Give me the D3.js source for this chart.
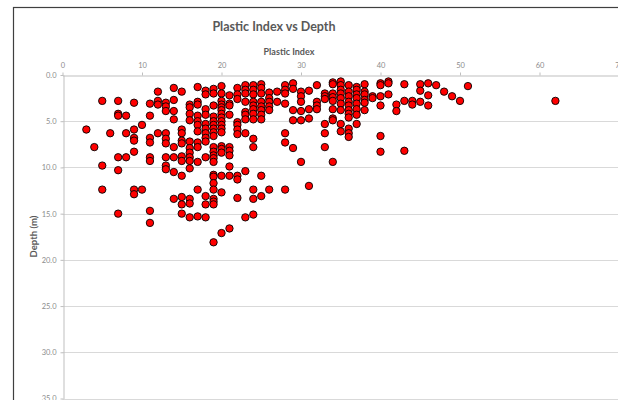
<!DOCTYPE html>
<html>
<head>
<meta charset="utf-8">
<script src="https://cdn.jsdelivr.net/npm/d3@7"></script>
<style>
  body { margin: 0; background: #fff; }
  svg { display: block; font-family: Lato, "Open Sans", sans-serif; }
</style>
</head>
<body>
<div id="chart"></div>
<script>
// plastic index values (x) and the depths measured at each one (y, metres)
const plasticIndex = [3, 4, 5, 6, 7, 8, 9, 10, 11, 12, 13, 14, 15, 16, 17, 18, 19, 20,
  21, 22, 23, 24, 25, 26, 27, 28, 29, 30, 31, 32, 33, 34, 35, 36, 37, 38, 39, 40,
  41, 42, 43, 44, 45, 46, 47, 48, 49, 50, 51, 62];

const depthsAtPI = [
  [5.9],
  [7.8],
  [2.8, 9.8, 12.4],
  [6.3],
  [2.8, 4.2, 4.4, 8.9, 10.3, 15.0],
  [4.4, 6.3, 8.9],
  [3.0, 5.9, 6.8, 7.1, 8.3, 12.4, 12.9],
  [5.4, 12.4],
  [3.1, 4.4, 6.8, 7.3, 8.9, 9.3, 14.7, 16.0],
  [1.8, 2.8, 3.2, 6.3],
  [3.0, 3.4, 3.9, 6.3, 6.9, 7.4, 8.9, 9.8, 10.2],
  [1.4, 2.7, 3.9, 4.8, 7.8, 8.9, 10.5, 13.4],
  [1.8, 5.9, 6.3, 7.1, 7.4, 8.8, 9.3, 10.9, 13.2, 14.0, 15.0],
  [3.2, 3.5, 4.2, 4.9, 7.2, 7.9, 8.4, 8.9, 9.3, 10.1, 13.4, 13.9, 15.4],
  [1.3, 2.9, 3.2, 4.4, 5.0, 5.4, 6.1, 7.3, 7.8, 9.4, 12.4, 15.3],
  [1.7, 2.1, 3.7, 4.3, 5.3, 5.8, 6.3, 6.8, 7.2, 8.9, 13.1, 14.0, 15.4],
  [1.5, 2.0, 3.3, 4.5, 5.0, 5.4, 5.8, 6.2, 6.6, 7.8, 8.3, 8.7, 9.0, 9.4, 10.8, 11.0, 11.7, 12.4, 13.4, 13.7, 14.0, 18.1],
  [1.2, 2.0, 2.8, 3.2, 3.5, 3.8, 4.2, 4.6, 5.0, 5.4, 5.8, 6.2, 7.7, 8.0, 8.4, 10.9, 12.7, 17.1],
  [2.2, 3.1, 3.3, 4.3, 7.8, 8.2, 8.7, 9.9, 10.9, 16.6],
  [1.4, 2.1, 2.6, 5.1, 5.4, 5.9, 6.4, 10.9, 11.3, 13.3],
  [1.1, 1.6, 2.0, 2.9, 4.0, 4.3, 4.8, 6.3, 10.4, 15.4],
  [1.1, 1.6, 2.1, 2.9, 3.3, 3.7, 4.2, 4.8, 6.9, 7.8, 12.4, 13.4, 15.1],
  [1.0, 1.4, 2.0, 2.9, 3.4, 3.8, 4.3, 4.8, 10.9, 13.1],
  [1.9, 2.5, 2.9, 3.4, 3.8, 12.4],
  [1.8, 2.9],
  [1.1, 1.6, 2.0, 3.1, 6.3, 7.3, 12.4],
  [0.9, 1.5, 3.8, 4.9, 7.9],
  [1.8, 2.3, 2.9, 3.9, 4.9, 9.4],
  [1.7, 3.7, 4.7, 12.0],
  [1.1, 2.9, 3.3, 3.7],
  [2.0, 2.3, 2.6, 5.3, 6.3, 7.8],
  [0.8, 1.0, 2.0, 2.4, 2.8, 3.7, 4.7, 4.9, 9.4],
  [0.7, 1.1, 1.6, 2.0, 2.5, 3.1, 3.8, 5.3, 6.1],
  [1.1, 1.8, 2.3, 2.9, 3.3, 3.8, 4.2, 4.6, 5.8, 6.3, 6.7],
  [1.3, 1.6, 2.1, 2.5, 3.1, 3.7, 4.3, 5.3],
  [1.0, 1.8, 2.1, 2.7, 3.0, 3.8],
  [2.3, 2.5],
  [0.9, 1.1, 2.3, 3.3, 6.6, 8.3],
  [0.7, 0.9, 2.1],
  [3.2, 3.9],
  [1.0, 2.8, 8.2],
  [2.8, 3.2],
  [1.0, 1.7, 2.9],
  [0.9, 2.2, 3.3],
  [1.1],
  [1.8],
  [2.3],
  [2.8],
  [1.2],
  [2.8]
];

const xTicks = [0, 10, 20, 30, 40, 50, 60, 70];
const yTicks = [0, 5, 10, 15, 20, 25, 30, 35];

const points = [];
plasticIndex.forEach((pi, i) => {
  depthsAtPI[i].forEach(d => points.push({ pi: pi, depth: d }));
});

const width = 618, height = 400;

const svg = d3.select("#chart")
  .append("svg")
  .attr("width", width)
  .attr("height", height);

// chart frame (runs off the right and bottom edge like the screenshot)
svg.append("rect")
  .attr("x", 13.5)
  .attr("y", 7.5)
  .attr("width", 700)
  .attr("height", 500)
  .attr("fill", "#fff")
  .attr("stroke", "#3f3f3f")
  .attr("stroke-width", 1.2);

const xScale = d3.scaleLinear().domain([0, 70]).range([62.5, 619]);
const yScale = d3.scaleLinear().domain([0, 35]).range([75, 398.5]);

// horizontal gridlines
svg.append("g")
  .selectAll("line")
  .data(yTicks.slice(1))
  .join("line")
  .attr("x1", xScale(0))
  .attr("x2", xScale(70))
  .attr("y1", d => Math.round(yScale(d)) + 0.5)
  .attr("y2", d => Math.round(yScale(d)) + 0.5)
  .attr("stroke", "#d9d9d9")
  .attr("stroke-width", 1);

// x axis along the top
const xAxis = svg.append("g")
  .attr("transform", "translate(0," + (Math.round(yScale(0)) + 0.5) + ")")
  .call(d3.axisTop(xScale)
    .tickValues(xTicks)
    .tickSize(3)
    .tickPadding(5)
    .tickSizeOuter(0)
    .tickFormat(d3.format("d")));

// y axis on the left
const yAxis = svg.append("g")
  .attr("transform", "translate(" + (Math.round(xScale(0)) + 0.5) + ",0)")
  .call(d3.axisLeft(yScale)
    .tickValues(yTicks)
    .tickSize(3)
    .tickPadding(4)
    .tickSizeOuter(0)
    .tickFormat(d3.format(".1f")));

[xAxis, yAxis].forEach(g => {
  g.select(".domain").attr("stroke", "#bfbfbf");
  g.selectAll(".tick line").attr("stroke", "#bfbfbf");
  g.selectAll(".tick text")
    .attr("fill", "#8c8c8c")
    .style("font-size", "7.5px")
    .style("font-family", "Lato, sans-serif");
});

// points
svg.append("g")
  .selectAll("circle")
  .data(points)
  .join("circle")
  .attr("cx", d => xScale(d.pi))
  .attr("cy", d => yScale(d.depth))
  .attr("r", 3.7)
  .attr("fill", "#ff0000")
  .attr("stroke", "#000")
  .attr("stroke-width", 0.9);

// titles
svg.append("text")
  .attr("x", 274)
  .attr("y", 31)
  .attr("text-anchor", "middle")
  .attr("fill", "#595959")
  .style("font-size", "12.5px")
  .style("font-weight", "bold")
  .text("Plastic Index vs Depth");

svg.append("text")
  .attr("x", 289)
  .attr("y", 55)
  .attr("text-anchor", "middle")
  .attr("fill", "#595959")
  .style("font-size", "9px")
  .style("font-weight", "bold")
  .text("Plastic Index");

svg.append("text")
  .attr("transform", "translate(37,236.5) rotate(-90)")
  .attr("text-anchor", "middle")
  .attr("fill", "#595959")
  .style("font-size", "9.5px")
  .style("font-weight", "bold")
  .text("Depth (m)");
</script>
</body>
</html>
